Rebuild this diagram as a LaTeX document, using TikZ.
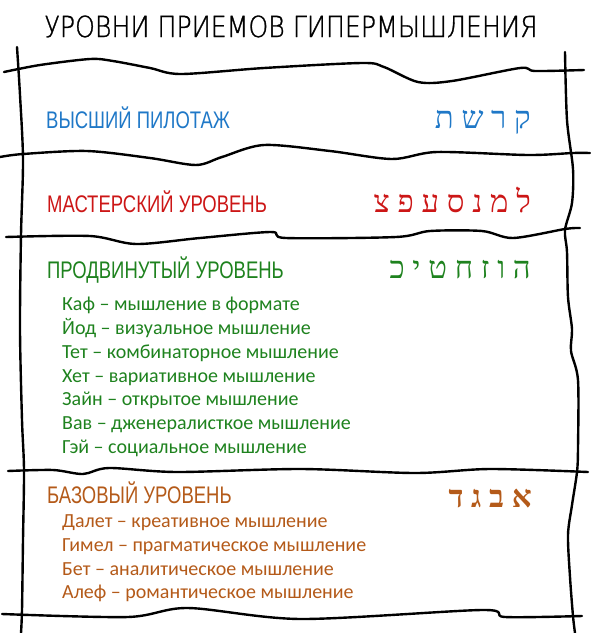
\documentclass[tikz,border=0pt]{standalone}
\usepackage{fontspec}
\setmainfont{Carlito}
\newfontfamily\titlefont{DejaVu Sans ExtraLight}[FakeStretch=0.87, FakeBold=1]
\newfontfamily\headfont{Liberation Sans}[FakeStretch=0.77]
\newfontfamily\hebfont[Script=Hebrew]{Liberation Serif}
\TeXXeTstate=1
\definecolor{lvlblue}{RGB}{31,120,199}
\definecolor{lvlred}{RGB}{204,22,22}
\definecolor{lvlgreen}{RGB}{30,130,30}
\definecolor{lvlbrown}{RGB}{180,90,25}
\begin{document}
\begin{tikzpicture}[x=1pt, y=-1pt,
	border/.style={line width=2.4pt, line cap=round, line join=round},
	level/.style={anchor=base west, inner sep=0pt, font=\headfont\fontsize{24}{24}\selectfont},
	letters/.style={anchor=base east, inner sep=0pt, font=\hebfont\fontsize{31}{31}\selectfont},
	items/.style={anchor=base west, inner sep=0pt, font=\fontsize{20}{24}\selectfont}]
	\useasboundingbox (0,0) rectangle (591,633);
	\node[anchor=base, inner sep=0pt, font=\titlefont\fontsize{29}{29}\selectfont] (title) at (291,37) {УРОВНИ ПРИЕМОВ ГИПЕРМЫШЛЕНИЯ};
	% frame
	\draw[border] plot[smooth] coordinates {(17,47) (20,95) (23,160) (21,235) (20,330) (22,420) (24,470) (23,540) (22,610) (21,633)};
	\draw[border] plot[smooth] coordinates {(565,52) (567,120) (573,169) (572,203) (565,230) (567,252) (568,297) (572,329) (571,351) (578,380) (578,448) (577,472) (572,505) (568,535) (570,577) (573,616) (575,633)};
	\draw[border] plot[smooth] coordinates {(4,72) (40,65) (90,59) (113,61) (150,68) (181,74) (264,68) (362,63) (384,67) (418,82) (452,81) (520,68) (535,71) (584,70)};
	\draw[border] plot[smooth] coordinates {(0,157) (23,154) (87,151) (150,158) (196,165) (222,157) (264,145) (330,151) (392,159) (437,152) (528,155) (573,153) (590,153)};
	\draw[border] plot[smooth] coordinates {(6,237) (90,236) (136,244) (200,238) (271,232) (286,238) (396,237) (430,231) (482,231) (513,238) (565,229) (580,228)};
	\draw[border] plot[smooth] coordinates {(8,471) (53,470) (83,474) (109,468) (177,472) (301,469) (415,473) (490,469) (588,472)};
	\draw[border] plot[smooth] coordinates {(2,614) (128,617) (188,608) (301,619) (482,610) (505,617) (582,616)};
	% top level
	\node[level, text=lvlblue] (pilot) at (46,128) {ВЫСШИЙ ПИЛОТАЖ};
	\node[letters, text=lvlblue] (pilotheb) at (531,128) {\beginR ק ר ש ת\endR};
	% master level
	\node[level, text=lvlred] (master) at (47,212) {МАСТЕРСКИЙ УРОВЕНЬ};
	\node[letters, text=lvlred] (masterheb) at (531,212) {\beginR ל מ נ ס ע פ צ\endR};
	% advanced level
	\node[level, text=lvlgreen] (adv) at (47,278) {ПРОДВИНУТЫЙ УРОВЕНЬ};
	\node[letters, text=lvlgreen] (advheb) at (531,278) {\beginR ה ו ז ח ט י כ\endR};
	\node[items, text=lvlgreen] (kaf) at (62,310) {Каф – мышление в формате};
	\node[items, text=lvlgreen] (yod) at (62,334) {Йод – визуальное мышление};
	\node[items, text=lvlgreen] (tet) at (62,358) {Тет – комбинаторное мышление};
	\node[items, text=lvlgreen] (het) at (62,382) {Хет – вариативное мышление};
	\node[items, text=lvlgreen] (zayin) at (62,405) {Зайн – открытое мышление};
	\node[items, text=lvlgreen] (vav) at (62,429) {Вав – дженералисткое мышление};
	\node[items, text=lvlgreen] (hey) at (62,453) {Гэй – социальное мышление};
	% base level
	\node[level, text=lvlbrown] (base) at (47,503) {БАЗОВЫЙ УРОВЕНЬ};
	\node[letters, text=lvlbrown, font=\hebfont\bfseries\fontsize{31}{31}\selectfont] (baseheb) at (532,507) {\beginR א ב ג ד\endR};
	\node[items, text=lvlbrown] (dalet) at (62,527) {Далет – креативное мышление};
	\node[items, text=lvlbrown] (gimel) at (62,551) {Гимел – прагматическое мышление};
	\node[items, text=lvlbrown] (bet) at (62,575) {Бет – аналитическое мышление};
	\node[items, text=lvlbrown] (alef) at (62,598) {Алеф – романтическое мышление};
\end{tikzpicture}
\end{document}
